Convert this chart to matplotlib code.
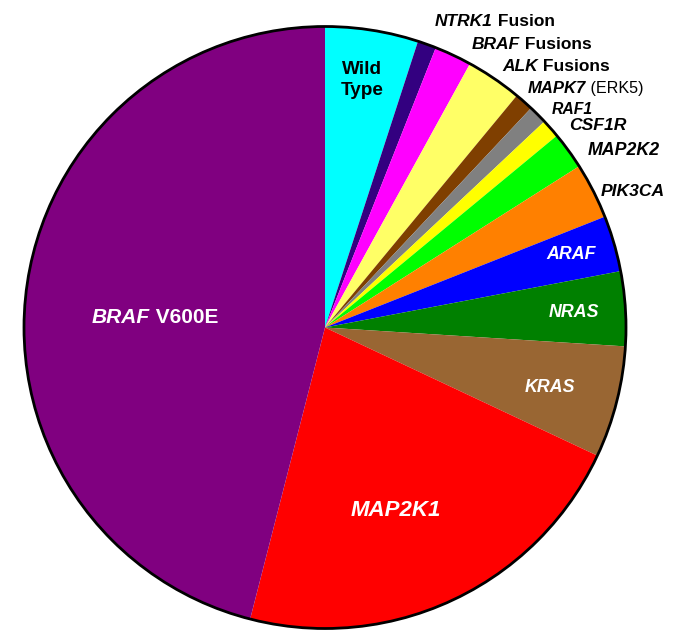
import matplotlib
matplotlib.use("Agg")
import matplotlib.pyplot as plt
from matplotlib.patches import Circle

plt.rcParams["font.family"] = ["Liberation Sans", "DejaVu Sans"]

# slices, clockwise from 12 o'clock (percent of cases)
genes = ["Wild Type", "NTRK1", "BRAF", "ALK", "MAPK7", "RAF1", "CSF1R",
         "MAP2K2", "PIK3CA", "ARAF", "NRAS", "KRAS", "MAP2K1", "BRAF V600E"]
shares = [5, 1, 2, 3, 1, 1, 1, 2, 3, 3, 4, 6, 22, 46]
colors = ["#00ffff", "#330080", "#ff00ff", "#ffff66", "#7f3f00", "#808080",
          "#ffff00", "#00ff00", "#ff8000", "#0000ff", "#008000", "#996633",
          "#ff0000", "#800080"]

# outside labels: italic gene part, upright suffix
out_italic = ["NTRK1", "BRAF", "ALK", "MAPK7", "RAF1", "CSF1R", "MAP2K2", "PIK3CA"]
out_suffix = [" Fusion", " Fusions", " Fusions", " (ERK5)", "", "", "", ""]

W, H = 673, 634
CX, CY, R = 325, 327.5, 301


def px(x, y):
    # pixel position (from top-left) -> data coords
    return (x - CX) / R, (CY - y) / R


fig = plt.figure(figsize=(W / 100, H / 100), dpi=100)
ax = fig.add_axes([0, 0, 1, 1])
ax.pie(shares, colors=colors, startangle=90, counterclock=False, radius=1,
       wedgeprops=dict(linewidth=0, antialiased=True))
ax.add_patch(Circle((0, 0), 1, fill=False, edgecolor="black", linewidth=2, zorder=5))
ax.set_aspect("auto")
ax.set_xlim(-CX / R, (W - CX) / R)
ax.set_ylim((CY - H) / R, CY / R)
ax.axis("off")

# inside labels
ax.text(*px(362, 80), "Wild\nType", ha="center", va="center", fontsize=13.6,
        fontweight="bold", color="black", linespacing=1.25)
for name, (x, y) in zip(["ARAF", "NRAS", "KRAS"], [(571, 255), (574, 313), (550, 388)]):
    ax.text(*px(x, y), name, ha="center", va="center", fontsize=12.8,
            fontweight="bold", style="italic", color="white")
ax.text(*px(396, 510), "MAP2K1", ha="center", va="center", fontsize=16,
        fontweight="bold", style="italic", color="white")

t = ax.text(*px(92, 318), "BRAF", ha="left", va="center", fontsize=15,
            fontweight="bold", style="italic", color="white")
ax.annotate(" V600E", xy=(1, 0.5), xycoords=t, ha="left", va="center",
            fontsize=15, fontweight="bold", color="white")

# outside labels
out_pos = [(435, 22), (472, 45), (502, 67), (528, 89), (552, 110), (569, 126),
           (588, 151), (601, 192)]
out_size = [12.5, 12.5, 12.5, 12, 11.3, 12.6, 12.8, 12.6]
for name, suffix, (x, y), fs in zip(out_italic, out_suffix, out_pos, out_size):
    t = ax.text(*px(x, y), name, ha="left", va="center", fontsize=fs,
                fontweight="bold", style="italic", color="black")
    if suffix:
        if "ERK5" in suffix:
            ax.annotate(suffix, xy=(1, 0.5), xycoords=t, ha="left", va="center",
                        fontsize=11.6, fontweight="normal", color="black")
        else:
            ax.annotate(suffix, xy=(1, 0.5), xycoords=t, ha="left", va="center",
                        fontsize=fs, fontweight="bold", color="black")

fig.savefig("out.png", dpi=100)
